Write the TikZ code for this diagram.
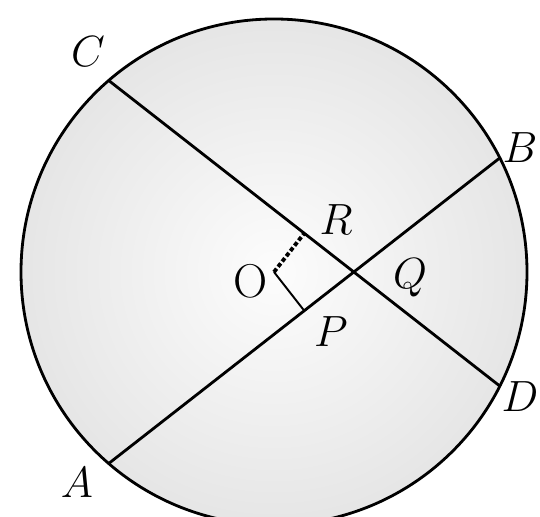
\documentclass[tikz,border=0pt]{standalone}
\usetikzlibrary{calc}

\begin{document}
\begin{tikzpicture}[line width=1.6pt,
      lbl/.style={font=\fontsize{27}{32}\selectfont, inner sep=0pt},
      perp/.style={line width=1.1pt},
      hidden/.style={line width=2.2pt, dash pattern=on 2.4pt off 1.4pt}]
      \useasboundingbox (0,0) rectangle (10.8,10.34);
      \clip (0,0) rectangle (10.8,10.34);
      \def\circR{5.06}

      \coordinate (O) at (5.48,4.90);
      \coordinate (C) at ($(O)+(130.8:\circR)$);
      \coordinate (D) at ($(O)+(-26.8:\circR)$);
      \coordinate (A) at ($(O)+(229.2:\circR)$);
      \coordinate (B) at ($(O)+(26.8:\circR)$);
      \coordinate (R) at ($(C)!(O)!(D)$);
      \coordinate (P) at ($(A)!(O)!(B)$);

      \shade[inner color=gray!2, outer color=gray!20] (O) circle (\circR);
      \draw (O) circle (\circR);
      \draw (C) -- (D);
      \draw (A) -- (B);
      \draw[hidden] (O) -- (R);
      \draw[perp] (O) -- (P);

      \node[lbl] (lC) at (1.76,9.30) {$C$};
      \node[lbl] (lB) at (10.40,7.38) {$B$};
      \node[lbl] (lD) at (10.40,2.40) {$D$};
      \node[lbl] (lA) at (1.54,0.68) {$A$};
      \node[lbl] (lR) at (6.72,5.94) {$R$};
      \node[lbl] (lQ) at (8.20,4.78) {$Q$};
      \node[lbl] (lP) at (6.62,3.70) {$P$};
      \node[lbl] (lO) at (5.02,4.72) {O};
\end{tikzpicture}
\end{document}
